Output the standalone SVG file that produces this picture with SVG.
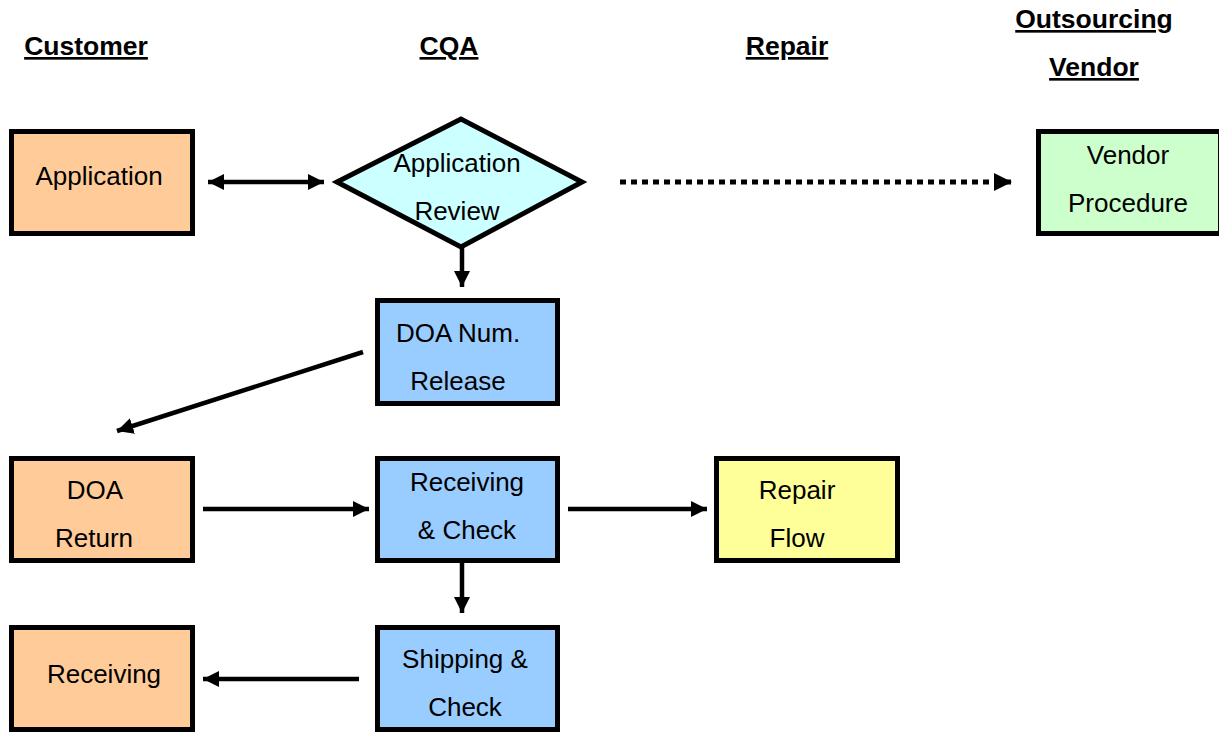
<svg xmlns="http://www.w3.org/2000/svg" width="1219" height="733" viewBox="0 0 1219 733">
<style>
.hdr{font-family:"Liberation Sans",Arial,sans-serif;font-size:26.5px;font-weight:bold;text-decoration:underline;text-anchor:middle;fill:#000}
.t{font-family:"Liberation Sans",Arial,sans-serif;font-size:26px;text-anchor:middle;fill:#000}
.box{stroke:#000;stroke-width:5}
.c{stroke:#000;stroke-width:4.5;fill:none}
.d{stroke:#000;stroke-width:5;fill:none;stroke-dasharray:6 5}
</style>
<defs>
<marker id="ah" viewBox="0 0 10 10" refX="10" refY="5" markerWidth="3.6" markerHeight="3.6" markerUnits="strokeWidth" orient="auto-start-reverse">
<path d="M0,0 L10,5 L0,10 z" fill="#000"/>
</marker>
</defs>
<rect width="1219" height="733" fill="#fff"/>
<g id="headers">
<text class="hdr" x="86" y="55">Customer</text>
<text class="hdr" x="449" y="55">CQA</text>
<text class="hdr" x="787" y="55">Repair</text>
<text class="hdr" x="1094" y="28">Outsourcing</text>
<text class="hdr" x="1094" y="76">Vendor</text>
</g>
<g id="connectors">
<line class="c" x1="208" y1="182" x2="324" y2="182" marker-start="url(#ah)" marker-end="url(#ah)"/>
<line class="d" x1="620" y1="182" x2="1012" y2="182" marker-end="url(#ah)"/>
<line class="c" x1="462" y1="247" x2="462" y2="287" marker-end="url(#ah)"/>
<line class="c" x1="363" y1="352" x2="117" y2="431" marker-end="url(#ah)"/>
<line class="c" x1="203" y1="509" x2="369" y2="509" marker-end="url(#ah)"/>
<line class="c" x1="568" y1="509" x2="707" y2="509" marker-end="url(#ah)"/>
<line class="c" x1="462" y1="563" x2="462" y2="613" marker-end="url(#ah)"/>
<line class="c" x1="359" y1="679" x2="203" y2="679" marker-end="url(#ah)"/>
</g>
<g id="application">
<rect class="box" x="11.5" y="131.5" width="181" height="102" fill="#FFCC99"/>
<text class="t" x="99" y="185">Application</text>
</g>
<g id="application-review">
<polygon class="box" points="337,182 461,119 582,182 461,247" fill="#CCFFFF"/>
<text class="t" x="457" y="172">Application</text>
<text class="t" x="457" y="220">Review</text>
</g>
<g id="vendor-procedure">
<rect class="box" x="1038.5" y="131.5" width="182" height="102" fill="#CCFFCC"/>
<text class="t" x="1128" y="164">Vendor</text>
<text class="t" x="1128" y="212">Procedure</text>
</g>
<g id="doa-num-release">
<rect class="box" x="377.5" y="300.5" width="180" height="103" fill="#99CCFF"/>
<text class="t" x="458" y="342">DOA Num.</text>
<text class="t" x="458" y="390">Release</text>
</g>
<g id="doa-return">
<rect class="box" x="11.5" y="458.5" width="181" height="102" fill="#FFCC99"/>
<text class="t" x="95" y="499">DOA</text>
<text class="t" x="94" y="547">Return</text>
</g>
<g id="receiving-check">
<rect class="box" x="377.5" y="458.5" width="180" height="102" fill="#99CCFF"/>
<text class="t" x="467" y="491">Receiving</text>
<text class="t" x="467" y="539">&amp; Check</text>
</g>
<g id="repair-flow">
<rect class="box" x="716.5" y="458.5" width="181" height="102" fill="#FFFF99"/>
<text class="t" x="797" y="499">Repair</text>
<text class="t" x="797" y="547">Flow</text>
</g>
<g id="shipping-check">
<rect class="box" x="377.5" y="627.5" width="180" height="102" fill="#99CCFF"/>
<text class="t" x="465" y="668">Shipping &amp;</text>
<text class="t" x="465" y="716">Check</text>
</g>
<g id="receiving">
<rect class="box" x="11.5" y="627.5" width="181" height="102" fill="#FFCC99"/>
<text class="t" x="104" y="683">Receiving</text>
</g>
</svg>
